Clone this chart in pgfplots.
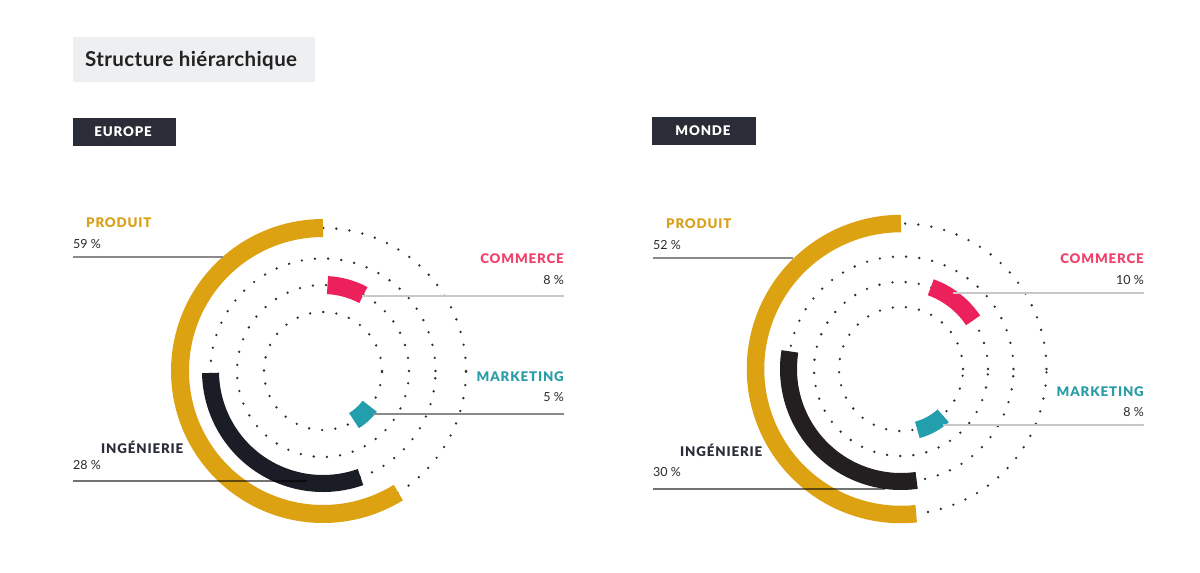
\documentclass[border=0pt]{standalone}
\usepackage{fontspec}
\setmainfont{Lato}
\newfontfamily\heavy{Lato Black}
\usepackage{pgfplots}
\pgfplotsset{compat=1.18}
\usepgfplotslibrary{polar}
\definecolor{gold}{HTML}{DCA212}
\definecolor{goldtxt}{HTML}{D9A11A}
\definecolor{pinkbar}{HTML}{EC205B}
\definecolor{pinktxt}{HTML}{F0426B}
\definecolor{tealbar}{HTML}{229EAD}
\definecolor{tealtxt}{HTML}{2A9DA9}
\definecolor{inkEU}{HTML}{1B1D26}
\definecolor{inkWD}{HTML}{231F20}
\definecolor{inktxt}{HTML}{2B2E3A}
\definecolor{boxdark}{HTML}{2A2D37}
\definecolor{titlebg}{HTML}{EEEFF1}
\definecolor{titletext}{HTML}{222222}
\definecolor{dotcol}{HTML}{2E2E34}
\definecolor{lightline}{HTML}{C8C8C8}
\definecolor{midline}{HTML}{8A8A8A}
\definecolor{numtxt}{HTML}{2A2A2A}
\pgfplotsset{
  ring/.style={scale only axis, width=340pt, height=340pt,
    xmin=0, xmax=360, ymin=0, ymax=170, hide axis, clip=false, anchor=origin},
  dotring/.style={domain=0:360, samples=361, draw=dotcol, line width=2.6pt,
    line cap=round, dash pattern=on 0pt off 13.2pt},
  band/.style={samples=90, line width=#1, line cap=butt},
  band/.default=18pt
}
\newcommand{\lab}{\heavy\fontsize{13.3}{15}\selectfont\addfontfeatures{LetterSpace=6.5}}
\newcommand{\num}{\fontsize{12.5}{15}\selectfont}
\begin{document}
\begin{tikzpicture}[x=1pt,y=1pt]
\useasboundingbox (0,0) rectangle (1200,-573);
% title
\fill[titlebg] (73,-37) rectangle (315,-82);
\node[anchor=base west, inner sep=0, text=titletext, font=\bfseries\fontsize{20.5}{24}\selectfont\addfontfeatures{LetterSpace=2}] at (85,-66) {Structure hiérarchique};
\fill[boxdark] (73,-118) rectangle (176,-146);
\node[anchor=base, inner sep=0, text=white, font=\lab] at (123,-136) {EUROPE};
\fill[boxdark] (652,-117) rectangle (756,-145);
\node[anchor=base, inner sep=0, text=white, font=\lab] at (703,-135) {MONDE};

% Europe
\begin{polaraxis}[ring, at={(323pt,-371pt)}]
\addplot[dotring] {143};
\addplot[dotring] {112.5};
\addplot[dotring] {86};
\addplot[dotring] {59};
\addplot[band=18pt, draw=gold, domain=90:301.8] {143};
\addplot[band=17pt, draw=inkEU, domain=181:289.5] {112.5};
\addplot[band=18pt, draw=pinkbar, domain=62:87] {86};
\addplot[band=18pt, draw=tealbar, domain=302:323] {58.5};
\end{polaraxis}

% Monde
\begin{polaraxis}[ring, at={(901pt,-369pt)}]
\addplot[dotring] {145.5};
\addplot[dotring] {112.5};
\addplot[dotring] {87};
\addplot[dotring] {62};
\addplot[band=17.5pt, draw=gold, domain=90:276] {145.5};
\addplot[band=17pt, draw=inkWD, domain=171:278] {112.5};
\addplot[band=17pt, draw=pinkbar, domain=34:70] {87};
\addplot[band=17pt, draw=tealbar, domain=285:312] {63};
\end{polaraxis}

% Europe labels
\draw[midline, line width=1.2pt] (73,-257) -- (223,-257);
\node[anchor=base west, inner sep=0, text=goldtxt, font=\lab] at (86,-227) {PRODUIT};
\node[anchor=base west, inner sep=0, text=numtxt, font=\num] at (73,-248) {59 \%};
\draw[lightline, line width=1.5pt] (362,-296) -- (564,-296);
\node[anchor=base east, inner sep=0, text=pinktxt, font=\lab] at (564,-263) {COMMERCE};
\node[anchor=base east, inner sep=0, text=numtxt, font=\num] at (564,-284) {8 \%};
\draw[midline, line width=1.2pt] (373,-414) -- (564,-414);
\node[anchor=base east, inner sep=0, text=tealtxt, font=\lab] at (564,-381) {MARKETING};
\node[anchor=base east, inner sep=0, text=numtxt, font=\num] at (564,-401) {5 \%};
\draw[black, opacity=0.55, line width=1.2pt] (73,-481) -- (307,-481);
\node[anchor=base west, inner sep=0, text=inktxt, font=\lab] at (101,-453) {INGÉNIERIE};
\node[anchor=base west, inner sep=0, text=numtxt, font=\num] at (73,-469) {28 \%};

% Monde labels
\draw[midline, line width=1.2pt] (653,-258) -- (793,-258);
\node[anchor=base west, inner sep=0, text=goldtxt, font=\lab] at (666,-228) {PRODUIT};
\node[anchor=base west, inner sep=0, text=numtxt, font=\num] at (653,-249) {52 \%};
\draw[lightline, line width=1.5pt] (953,-293) -- (1144,-293);
\node[anchor=base east, inner sep=0, text=pinktxt, font=\lab] at (1144,-263) {COMMERCE};
\node[anchor=base east, inner sep=0, text=numtxt, font=\num] at (1144,-284) {10 \%};
\draw[lightline, line width=1.5pt] (943,-425) -- (1144,-425);
\node[anchor=base east, inner sep=0, text=tealtxt, font=\lab] at (1144,-396) {MARKETING};
\node[anchor=base east, inner sep=0, text=numtxt, font=\num] at (1144,-416) {8 \%};
\draw[black, opacity=0.55, line width=1.2pt] (653,-489) -- (885,-489);
\node[anchor=base west, inner sep=0, text=inktxt, font=\lab] at (680,-456) {INGÉNIERIE};
\node[anchor=base west, inner sep=0, text=numtxt, font=\num] at (653,-476) {30 \%};
\end{tikzpicture}
\end{document}
